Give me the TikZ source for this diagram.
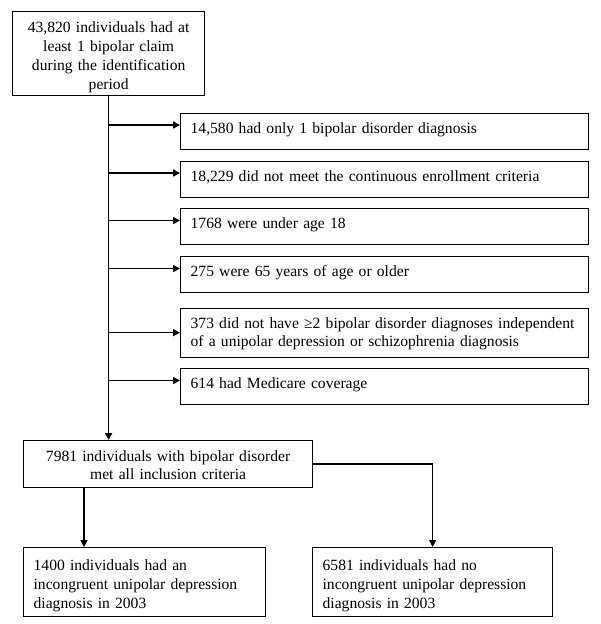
\documentclass[tikz,border=0pt]{standalone}
\usepackage{fontspec}
\setmainfont{Liberation Serif}
\usetikzlibrary{arrows.meta}
\begin{document}
\begin{tikzpicture}[x=1pt,y=-1pt,
  box/.style={draw=black,line width=1.3pt,inner xsep=10pt,inner ysep=0pt,
    font=\fontsize{15.6}{18.8}\selectfont,anchor=north west},
  sidebox/.style={box,text width=388pt,align=left,text height=20pt,text depth=16pt},
  conn/.style={line width=1.6pt,-{Triangle[length=7pt,width=7pt]}}
]
\useasboundingbox (0,0) rectangle (600,624);

\node[box,inner xsep=4pt,text width=184pt,align=center,text height=21pt,text depth=63pt] (top) at (12,11)
  {43,820 individuals had at\\least 1 bipolar claim\\during the identification\\period};

\node[sidebox] (b1) at (180,112.5) {14,580 had only 1 bipolar disorder diagnosis};
\node[sidebox] (b2) at (180,160.5) {18,229 did not meet the continuous enrollment criteria};
\node[sidebox] (b3) at (180,208) {1768 were under age 18};
\node[sidebox] (b4) at (180,256) {275 were 65 years of age or older};
\node[sidebox,text depth=29pt] (b5) at (180,307.5)
  {\mbox{373 did not have ≥2 bipolar disorder diagnoses independent}\\\mbox{of a unipolar depression or schizophrenia diagnosis}};
\node[sidebox] (b6) at (180,368) {614 had Medicare coverage};

\node[box,text width=269pt,align=center,text height=20.5pt,text depth=26.5pt] (mid) at (23,440)
  {7981 individuals with bipolar disorder\\met all inclusion criteria};

\node[box,text width=222pt,align=left,text height=23pt,text depth=46pt] (bl) at (23,547)
  {1400 individuals had an\\incongruent unipolar depression\\diagnosis in 2003};
\node[box,text width=220pt,align=left,text height=23pt,text depth=46pt] (br) at (312,547)
  {6581 individuals had no\\incongruent unipolar depression\\diagnosis in 2003};

\draw[conn] (top.south) -- (top.south |- mid.north);
\foreach \b in {b1,b2,b3,b4,b6}{
  \coordinate (a\b) at ([yshift=-12.5pt]\b.north west);
  \draw[conn] (top.south |- a\b) -- (a\b);
}
\draw[conn] (top.south |- b5.west) -- (b5.west);

\coordinate (al) at ([xshift=61pt]bl.north west);
\draw[conn] (al |- mid.south) -- (al);
\draw[conn] (mid.east) -| (br.north);
\end{tikzpicture}
\end{document}
